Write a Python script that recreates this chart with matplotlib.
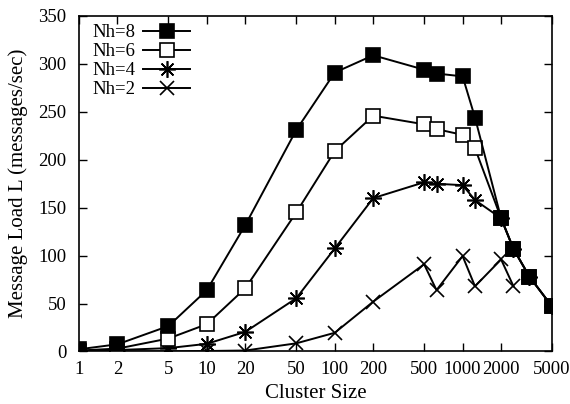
import numpy as np
import matplotlib.pyplot as plt
from matplotlib.ticker import FixedLocator, FixedFormatter, NullLocator

# -------------------------
# Data
# -------------------------
cluster = [1, 2, 5, 10, 20, 50, 100, 200, 500, 625, 1000, 1250, 2000, 2500, 3333, 5000]

load_nh8 = [2.3, 7.5, 26.5, 64, 132, 231, 291, 309, 294, 290, 287, 244, 139, 107, 78, 47]
load_nh6 = [1, 3, 13.5, 28.5, 66, 145, 209, 246, 237, 232, 226, 212, 139, 107, 78, 47]
load_nh4 = [0.5, 1.5, 3.5, 8, 20.5, 55.5, 107.5, 160, 176.5, 175, 173.5, 158, 139, 107, 78, 47]

cluster_nh2 = [1, 2, 5, 10, 20, 50, 100, 200, 500, 625, 1000, 1250, 2000, 2500]
load_nh2 = [0, 0, 0.2, 0.5, 1, 8.5, 19.5, 52, 91, 64, 99.5, 68, 96, 68]

x_ticks = [1, 2, 5, 10, 20, 50, 100, 200, 500, 1000, 2000, 5000]
y_ticks = [0, 50, 100, 150, 200, 250, 300, 350]

plt.rcParams['font.family'] = ['Liberation Serif', 'DejaVu Serif']

fig = plt.figure(figsize=(5.7, 4.04), dpi=100)
ax = fig.add_axes([0.1386, 0.130, 0.8298, 0.8304])

lw = 1.4
ms = 9.8
ax.plot(cluster, load_nh4, color="black", lw=lw, marker=(8, 2, 0), ms=12,
        mew=1.2, label="Nh=4", zorder=3)
ax.plot(cluster_nh2, load_nh2, color="black", lw=lw, marker="x", ms=ms,
        mew=1.2, label="Nh=2", zorder=2)
ax.plot(cluster, load_nh6, color="black", lw=lw, marker="s", ms=ms,
        mfc="white", mec="black", mew=1.2, label="Nh=6", zorder=4)
ax.plot(cluster, load_nh8, color="black", lw=lw, marker="s", ms=ms,
        mfc="black", mec="black", mew=1.2, label="Nh=8", zorder=5)

ax.set_xscale("log")
ax.set_xlim(1, 5000)
ax.set_ylim(0, 350)
ax.xaxis.set_major_locator(FixedLocator(x_ticks))
ax.xaxis.set_major_formatter(FixedFormatter([str(v) for v in x_ticks]))
ax.xaxis.set_minor_locator(NullLocator())
ax.set_yticks(y_ticks)

ax.tick_params(direction="in", length=6, width=1, top=True, right=True,
               labelsize=13.5)
ax.tick_params(axis="x", pad=7)
ax.tick_params(axis="y", pad=9)
for s in ax.spines.values():
    s.set_linewidth(1.2)

ax.set_xlabel("Cluster Size", fontsize=15, va="center")
ax.set_ylabel("Message Load L (messages/sec)", fontsize=15, va="center")
ax.xaxis.set_label_coords(0.5, -0.124)
ax.yaxis.set_label_coords(-0.129, 0.5)

handles, labels = ax.get_legend_handles_labels()
order = [labels.index(l) for l in ["Nh=8", "Nh=6", "Nh=4", "Nh=2"]]
ax.legend([handles[i] for i in order], [labels[i] for i in order],
          loc="upper left", frameon=False, markerfirst=False,
          fontsize=13.5, handlelength=2.5, handletextpad=0.45,
          labelspacing=0.1, borderpad=0, borderaxespad=0,
          bbox_to_anchor=(0.0275, 0.976))

fig.savefig("out.png", dpi=100)
